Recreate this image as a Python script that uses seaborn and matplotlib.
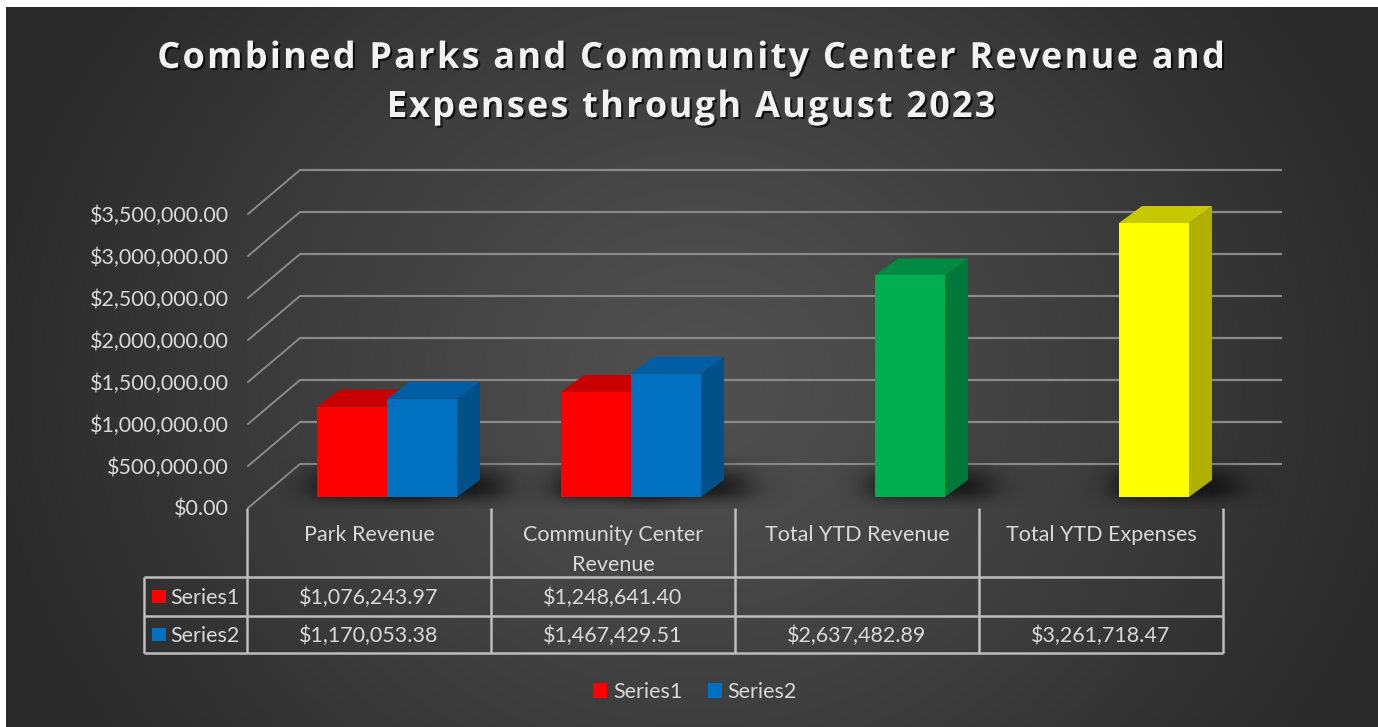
import numpy as np
import pandas as pd
import matplotlib
matplotlib.use("Agg")
import matplotlib.pyplot as plt
import seaborn as sns
from matplotlib.patches import Polygon, Rectangle, Patch
from matplotlib.font_manager import FontProperties
import matplotlib.patheffects as pe

# ---------------- data ----------------
categories = ["Park Revenue", "Community Center\nRevenue", "Total YTD Revenue", "Total YTD Expenses"]
series_names = ["Series1", "Series2"]
series1 = [1076243.97, 1248641.40, np.nan, np.nan]
series2 = [1170053.38, 1467429.51, 2637482.89, 3261718.47]
y_ticks = [0, 500000, 1000000, 1500000, 2000000, 2500000, 3000000, 3500000]
y_tick_labels = ["$0.00", "$500,000.00", "$1,000,000.00", "$1,500,000.00",
                 "$2,000,000.00", "$2,500,000.00", "$3,000,000.00", "$3,500,000.00"]
title_lines = ["Combined Parks and Community Center Revenue and",
               "Expenses through August 2023"]

# ---------------- styles ----------------
series_colors = {"Series1": "#FF0000", "Series2": "#0070C0"}
point_colors = {(2, "Series2"): "#00B050", (3, "Series2"): "#FFFF00"}
shades = {  # (side, top)
    "#FF0000": ("#B00000", "#C80000"),
    "#0070C0": ("#00508A", "#005EA4"),
    "#00B050": ("#00783A", "#008A42"),
    "#FFFF00": ("#B0B000", "#C8C800"),
}
TXT = "#d9d9d9"
GRID = "#8a8a8a"
TABLE_LINE = "#bdbdbd"
FS = 15.5

sns.set_theme(style="white")
plt.rcParams["font.family"] = ["Lato", "DejaVu Sans"]

W, H = 1378, 727
fig = plt.figure(figsize=(W / 100, H / 100), dpi=100, facecolor="white")


def rect(l, t, r, b):
    return [l / W, 1 - b / H, (r - l) / W, (b - t) / H]


def sig(z):
    return 1.0 / (1.0 + np.exp(-z))


# ---------------- background gradient ----------------
bg = fig.add_axes(rect(6, 7, W, H))
bg.set_zorder(-10)
yy, xx = np.mgrid[7:H, 6:W].astype(float)
r = np.sqrt(((xx - 700) / 720.0) ** 2 + ((yy - 380) / 640.0) ** 2)
r = np.clip(r, 0, 1) ** 1.2
inner = np.array([0x50, 0x50, 0x50]) / 255.0
outer = np.array([0x2a, 0x2a, 0x2a]) / 255.0
img = inner[None, None, :] * (1 - r[..., None]) + outer[None, None, :] * r[..., None]
bg.imshow(img, aspect="auto", extent=(6, W, H, 7), interpolation="bilinear")
bg.axis("off")

# ---------------- back wall gridlines ----------------
wall = fig.add_axes(rect(300, 170, 1282, 464))
wall.set_zorder(-5)
wall.set_xlim(0, 1)
wall.set_ylim(0, 3.5e6)
wall.axis("off")
for v in y_ticks:
    wall.plot([0, 1], [v, v], color=GRID, lw=1.6, clip_on=False, solid_capstyle="butt")

# ---------------- front value axis (labels) ----------------
fa = fig.add_axes(rect(248, 214, 1223, 508))
fa.set_zorder(-4)
fa.set_facecolor("none")
fa.set_xlim(0, 1)
fa.set_ylim(0, 3.5e6)
fa.set_yticks(y_ticks)
fa.set_yticklabels(y_tick_labels)
fa.set_xticks([])
fa.tick_params(axis="y", length=0, pad=14, labelcolor=TXT, labelsize=FS)
for s in fa.spines.values():
    s.set_visible(False)

winv = wall.transData.inverted()
for v in y_ticks:
    p0 = fa.transData.transform((0, v))
    q0 = winv.transform(p0)
    wall.plot([q0[0], 0], [q0[1], v], color=GRID, lw=1.4, clip_on=False)

# ---------------- bars ----------------
ax = fig.add_axes(rect(265, 203, 1241, 497))
ax.set_zorder(1)
df = pd.DataFrame({
    "category": categories * 2,
    "series": ["Series1"] * 4 + ["Series2"] * 4,
    "value": series1 + series2,
})
sns.barplot(data=df, x="category", y="value", hue="series", order=categories,
            hue_order=series_names, palette=series_colors, width=0.574,
            saturation=1, errorbar=None, legend=False, ax=ax)
ax.set_xlim(-0.5, 3.5)
ax.set_ylim(0, 3.5e6)

inv = ax.transData.inverted()
o = ax.transData.transform((0, 0))
px = inv.transform(o + np.array([1.0, 1.0]))
sx, sy = px[0], px[1]
ddx, ddy = 23 * sx, 17 * sy

bars = [p for p in ax.patches if isinstance(p, Rectangle)
        and np.isfinite(p.get_height()) and p.get_height() > 0]
bars.sort(key=lambda p: p.get_x())
for k, p in enumerate(bars):
    x0, w, h = p.get_x(), p.get_width(), p.get_height()
    cx = x0 + w / 2
    cat = int(round(cx))
    ser = "Series1" if cx < cat else "Series2"
    col = point_colors.get((cat, ser), series_colors[ser])
    side_c, top_c = shades[col]
    base = 2 + 3 * k
    # soft shadow around the bar foot
    gx = np.linspace(-40, w / sx + 90, 200)
    gy = np.linspace(-12, 40, 60)
    GX, GY = np.meshgrid(gx, gy)
    a = sig((GX + 5) / 9) * sig((w / sx + 45 - GX) / 11) * sig((GY + 1) / 4) * sig((24 - GY) / 6)
    rgba = np.zeros(GX.shape + (4,))
    rgba[..., 3] = 0.75 * a
    ax.imshow(rgba, extent=(x0 + gx[0] * sx, x0 + gx[-1] * sx, gy[0] * sy, gy[-1] * sy),
              origin="lower", aspect="auto", zorder=0.5, interpolation="bilinear", clip_on=False)
    p.set_facecolor(col)
    p.set_edgecolor("none")
    p.set_zorder(base + 2)
    ax.add_patch(Polygon([(x0 + w, 0), (x0 + w + ddx, ddy), (x0 + w + ddx, h + ddy), (x0 + w, h)],
                         closed=True, fc=side_c, ec="none", zorder=base, clip_on=False))
    ax.add_patch(Polygon([(x0, h), (x0 + ddx, h + ddy), (x0 + w + ddx, h + ddy), (x0 + w, h)],
                         closed=True, fc=top_c, ec="none", zorder=base + 1, clip_on=False))
ax.set_xlim(-0.5, 3.5)
ax.set_ylim(0, 3.5e6)
ax.set_aspect("auto")
ax.axis("off")

# ---------------- data table ----------------
tab = fig.add_axes([0, 0, 1, 1])
tab.set_zorder(2)
tab.set_xlim(0, W)
tab.set_ylim(H, 0)
tab.axis("off")
col_edges = [247 + 244 * i for i in range(len(categories) + 1)]
row_lines = [577, 616, 653]
for x in col_edges:
    tab.plot([x, x], [508, 653], color=TABLE_LINE, lw=1.8, solid_capstyle="butt")
tab.plot([144, 144], [577, 653], color=TABLE_LINE, lw=1.8, solid_capstyle="butt")
for y in row_lines:
    tab.plot([144, col_edges[-1]], [y, y], color=TABLE_LINE, lw=1.8, solid_capstyle="butt")

for i, cat in enumerate(categories):
    xc = (col_edges[i] + col_edges[i + 1]) / 2
    for j, part in enumerate(cat.split("\n")):
        tab.text(xc, 541 + 30 * j, part, ha="center", va="baseline", fontsize=FS, color=TXT)

for row, (name, vals) in enumerate(zip(series_names, [series1, series2])):
    yc = (row_lines[row] + row_lines[row + 1]) / 2
    tab.add_patch(Rectangle((152, yc - 7), 14, 13, fc=series_colors[name], ec="none"))
    tab.text(170, yc + 7.5, name, ha="left", va="baseline", fontsize=FS, color=TXT)
    for i, v in enumerate(vals):
        if np.isfinite(v):
            xc = (col_edges[i] + col_edges[i + 1]) / 2
            tab.text(xc, yc + 7.5, "${:,.2f}".format(v), ha="center", va="baseline",
                     fontsize=FS, color=TXT)

# ---------------- legend ----------------
handles = [Patch(fc=series_colors[n], ec="none") for n in series_names]
fig.legend(handles, series_names, loc="center", bbox_to_anchor=(695 / W, 1 - 692 / H),
           ncol=2, frameon=False, fontsize=FS, labelcolor=TXT, handlelength=0.65,
           handleheight=0.65, handletextpad=0.25, columnspacing=1.2)

# ---------------- title (letter-spaced) ----------------
renderer = fig.canvas.get_renderer()
tprop = FontProperties(family=["Open Sans", "DejaVu Sans"], weight="bold", size=26)
spacing = 2.2  # px between letters
shadow = [pe.withSimplePatchShadow(offset=(1.5, -1.5), shadow_rgbFace="black", alpha=0.7)]


def tw(s):
    w_, _, _ = renderer.get_text_width_height_descent(s, tprop, ismath=False)
    return w_


for line, yb in zip(title_lines, [68, 117]):
    ref = tw("|")
    offs = [tw(line[:i] + "|") - ref if i > 0 else 0.0 for i in range(len(line))]
    offs = [o_ + spacing * i for i, o_ in enumerate(offs)]
    total = tw(line) + spacing * (len(line) - 1)
    x_start = 691 - total / 2
    for ch, o_ in zip(line, offs):
        if ch == " ":
            continue
        tab.text(x_start + o_, yb, ch, ha="left", va="baseline", fontproperties=tprop,
                 color="#f2f2f2", path_effects=shadow)

fig.savefig("out.png", dpi=100, facecolor=fig.get_facecolor())
